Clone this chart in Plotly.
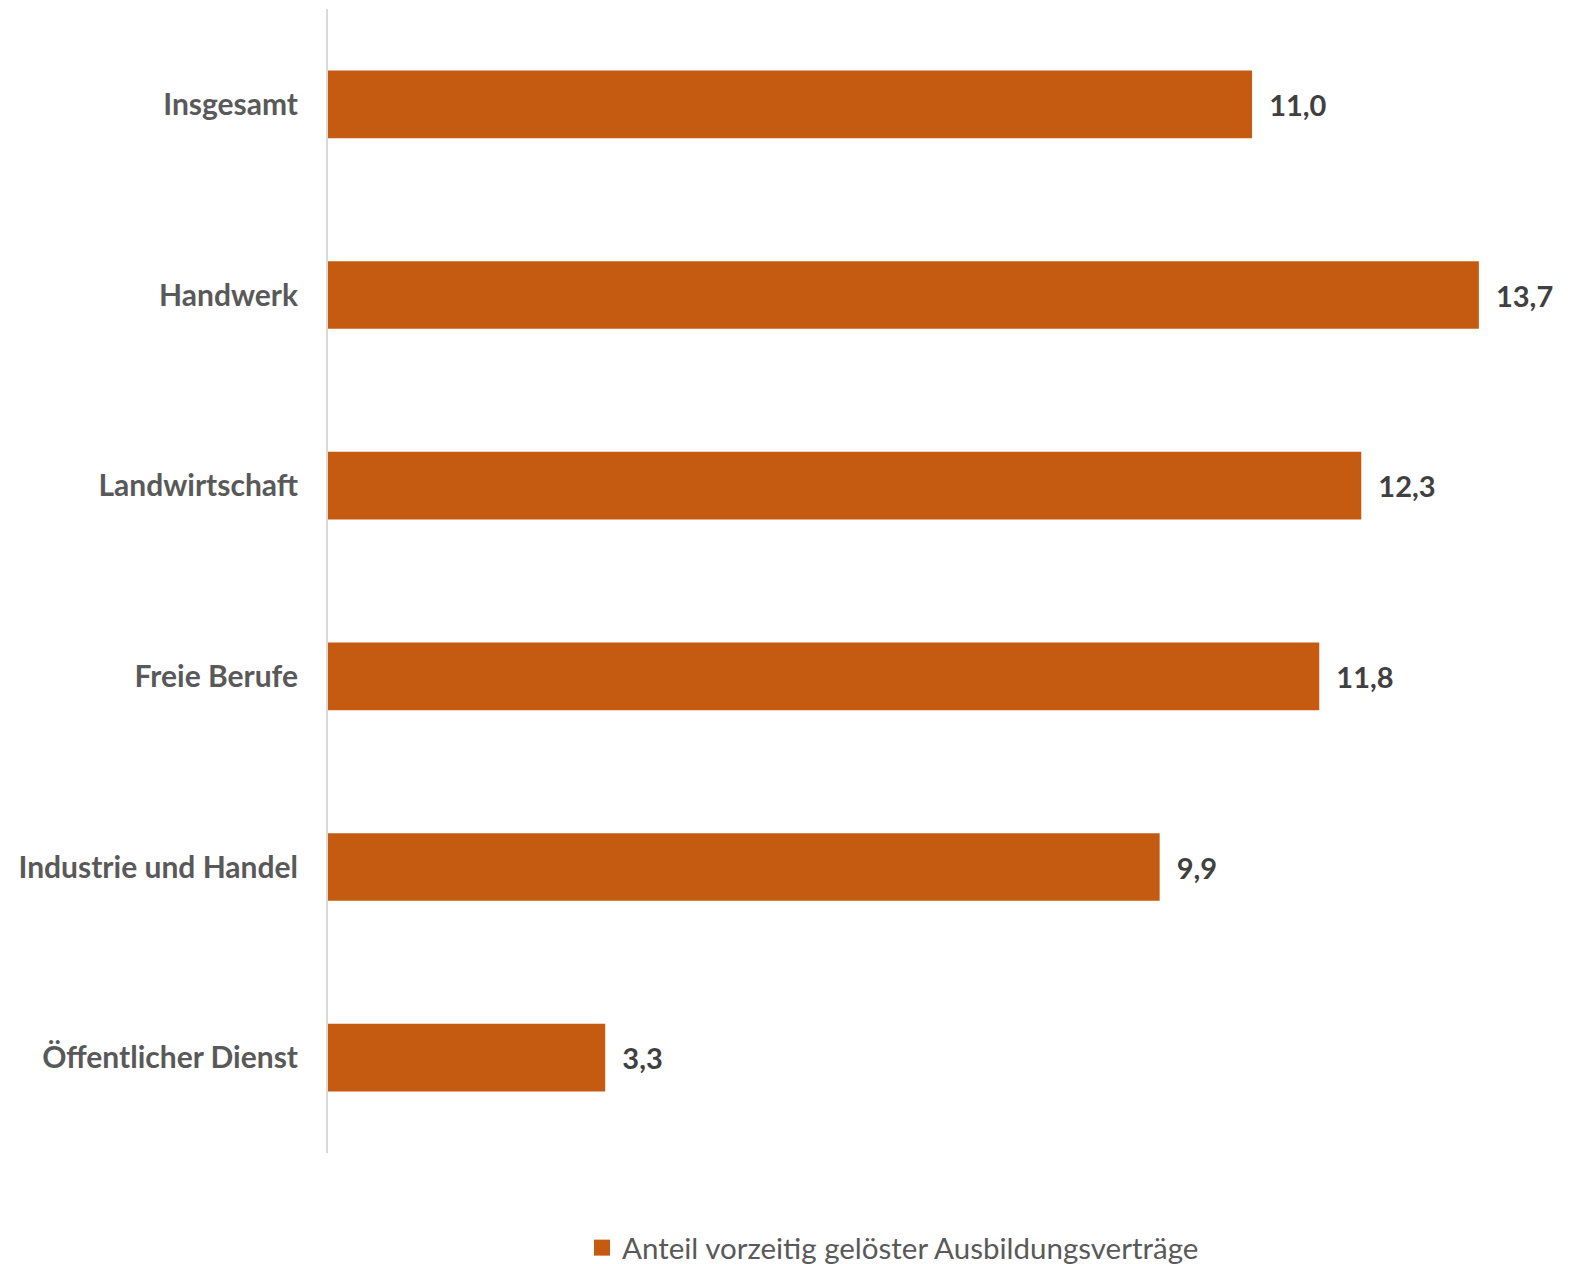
import plotly.graph_objects as go

categories = ["Insgesamt", "Handwerk", "Landwirtschaft", "Freie Berufe",
              "Industrie und Handel", "Öffentlicher Dienst"]
values = [11.0, 13.7, 12.3, 11.8, 9.9, 3.3]
series_name = "Anteil vorzeitig gelöster Ausbildungsverträge"

labels = ["\u00a0\u00a0" + f"{v:.1f}".replace(".", ",") for v in values]

FONT = "Lato"
BAR = "#C55A11"

fig = go.Figure()
fig.add_trace(go.Bar(
    y=categories, x=values, orientation="h",
    name=series_name,
    marker=dict(color=BAR, line=dict(width=0)),
    text=labels, textposition="outside",
    textfont=dict(family=FONT, size=29, color="#404040", weight="bold"),
    cliponaxis=False,
    showlegend=False,
))
# legend entry (square marker like the reference)
fig.add_trace(go.Scatter(
    x=[None], y=[None], mode="markers", name=series_name,
    marker=dict(symbol="square", size=18, color=BAR),
    showlegend=True,
))

fig.update_layout(
    width=1570, height=1256,
    margin=dict(l=320, r=0, t=1, b=111, autoexpand=False),
    paper_bgcolor="white", plot_bgcolor="white",
    bargap=0.645,
    font=dict(family=FONT),
    xaxis=dict(range=[0, 14.88], showgrid=False, zeroline=False,
               showticklabels=False, showline=False, fixedrange=True),
    yaxis=dict(autorange="reversed", showgrid=False, zeroline=False,
               showline=True, linecolor="#D9D9D9", linewidth=2,
               ticks="", ticklabelstandoff=22,
               tickfont=dict(family=FONT, size=30, color="#595959", weight="bold")),
    legend=dict(orientation="h", x=0.452, xanchor="center", y=-0.083, yanchor="middle",
                itemsizing="trace",
                font=dict(family=FONT, size=29.5, color="#595959")),
)

fig.write_html("out.html")
